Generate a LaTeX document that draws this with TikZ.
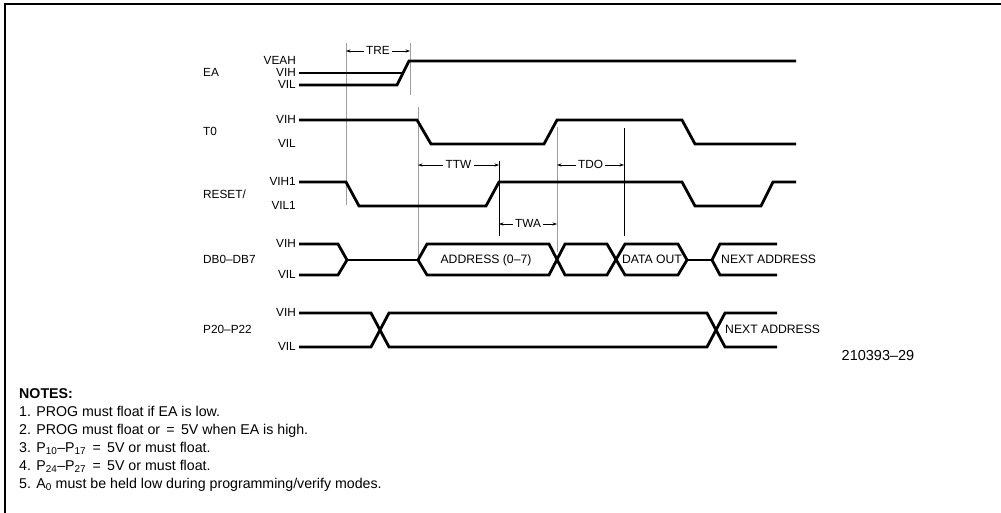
\documentclass[tikz,border=0pt]{standalone}
\usepackage{fontspec}
\setmainfont{Liberation Sans}
\usetikzlibrary{arrows.meta}
\begin{document}
\begin{tikzpicture}[x=1pt,y=-1pt,
  sig/.style={line width=2.8pt, line join=miter},
  guide/.style={line width=0.7pt, black!38},
  guideblk/.style={line width=0.8pt, black},
  lbl/.style={font=\fontsize{11.8}{13}\selectfont, inner sep=0pt, text height=0.716em, text depth=0pt},
  blk/.style={lbl, font=\fontsize{12.2}{14}\selectfont},
  lvl/.style={lbl, anchor=east},
  sname/.style={lbl, anchor=west},
  dim/.style={line width=0.7pt, {Stealth[length=4.5pt,width=3.2pt]}-{Stealth[length=4.5pt,width=3.2pt]}},
  dimlbl/.style={lbl, fill=white, inner xsep=2.5pt, inner ysep=1pt},
  note/.style={font=\fontsize{14.2}{16}\selectfont, anchor=base west, inner sep=0pt}
]
\useasboundingbox (0,0) rectangle (1001,513);
% frame
\draw[line width=2pt] (4.5,513) -- (4.5,4.5) -- (1001,4.5);

% guide lines
\draw[guide] (346,43) -- (346,205);
\draw[guide] (410,43) -- (410,95);
\draw[guide] (418,107) -- (418,258);
\draw[guideblk] (499,161) -- (499,236);
\draw[guide] (557,127) -- (557,252);
\draw[guideblk] (624,128) -- (624,236);

% dimensions
\coordinate (treA) at (346,51); \coordinate (treB) at (410,51);
\draw[dim] (treA) -- (treB) node[midway, dimlbl] (tre) {TRE};
\coordinate (ttwA) at (418,165); \coordinate (ttwB) at (499,165);
\draw[dim] (ttwA) -- (ttwB) node[midway, dimlbl] (ttw) {TTW};
\coordinate (tdoA) at (557,165); \coordinate (tdoB) at (624,165);
\draw[dim] (tdoA) -- (tdoB) node[midway, dimlbl] (tdo) {TDO};
\coordinate (twaA) at (499,224); \coordinate (twaB) at (557,224);
\draw[dim] (twaA) -- (twaB) node[midway, dimlbl] (twa) {TWA};

% EA
\draw[sig] (299,85) -- (397,85) -- (409,61) -- (796,61);
\draw[sig] (299,73) -- (403,73);
% T0
\draw[sig] (299,120) -- (417,120) -- (431,144) -- (544,144) -- (557,120) -- (682,120) -- (695,144) -- (796,144);
% RESET
\draw[sig] (299,182) -- (346,182) -- (359,206) -- (486,206) -- (499,182) -- (682,182) -- (695,206) -- (761,206) -- (773,182) -- (796,182);
% DB0-DB7
\draw[sig] (299,244) -- (338,244) -- (347,260) -- (338,275) -- (299,275);
\draw[sig] (347,260) -- (418,260);
\draw[sig] (418,260) -- (427,244) -- (549,244) -- (565,275) -- (607,275) -- (625,244) -- (678,244) -- (687,260) -- (678,275) -- (625,275) -- (607,244) -- (565,244) -- (549,275) -- (427,275) -- cycle;
\draw[sig] (687,260) -- (712,260);
\draw[sig] (777,244) -- (720,244) -- (712,260) -- (720,275) -- (777,275);
% P20-P22
\draw[sig] (299,313) -- (371,313) -- (389,347) -- (707,347) -- (725,313) -- (777,313);
\draw[sig] (299,347) -- (371,347) -- (389,313) -- (707,313) -- (725,347) -- (777,347);

% signal names
\node[sname] (nEA) at (203,73) {EA};
\node[sname] (nT0) at (203,132) {T0};
\node[sname] (nRS) at (203,195) {RESET/};
\node[sname] (nDB) at (203,260) {DB0–DB7};
\node[sname] (nP2) at (203,330) {P20–P22};

% level labels
\node[lvl] (l1) at (296,61) {VEAH};
\node[lvl] (l2) at (296,73) {VIH};
\node[lvl] (l3) at (296,85) {VIL};
\node[lvl] (l4) at (296,120) {VIH};
\node[lvl] (l5) at (296,144) {VIL};
\node[lvl] (l6) at (296,182) {VIH1};
\node[lvl] (l7) at (296,206) {VIL1};
\node[lvl] (l8) at (296,244) {VIH};
\node[lvl] (l9) at (296,275) {VIL};
\node[lvl] (l10) at (296,313) {VIH};
\node[lvl] (l11) at (296,347) {VIL};

% bus labels
\node[blk] (addr) at (486,260) {ADDRESS (0–7)};
\node[blk] (dout) at (652,260) {DATA OUT};
\node[blk, anchor=west] (nxt1) at (721,260) {NEXT ADDRESS};
\node[blk, anchor=west] (nxt2) at (725,330) {NEXT ADDRESS};

\node[font=\fontsize{14.5}{16}\selectfont, inner sep=0pt, text height=0.716em, text depth=0pt] (fig) at (878,357) {210393–29};

% notes
\node[note, font=\fontsize{14.2}{16}\selectfont\bfseries] (notes) at (19,398) {NOTES:};
\node[note] (n1) at (19,416) {1. PROG must float if EA is low.};
\node[note] (n2) at (19,434) {2. PROG must float or \,=\, 5V when EA is high.};
\node[note] (n3) at (19,452) {3. P\textsubscript{10}–P\textsubscript{17} \,=\, 5V or must float.};
\node[note] (n4) at (19,470) {4. P\textsubscript{24}–P\textsubscript{27} \,=\, 5V or must float.};
\node[note] (n5) at (19,488) {5. A\textsubscript{0} must be held low during programming/verify modes.};
\end{tikzpicture}
\end{document}
